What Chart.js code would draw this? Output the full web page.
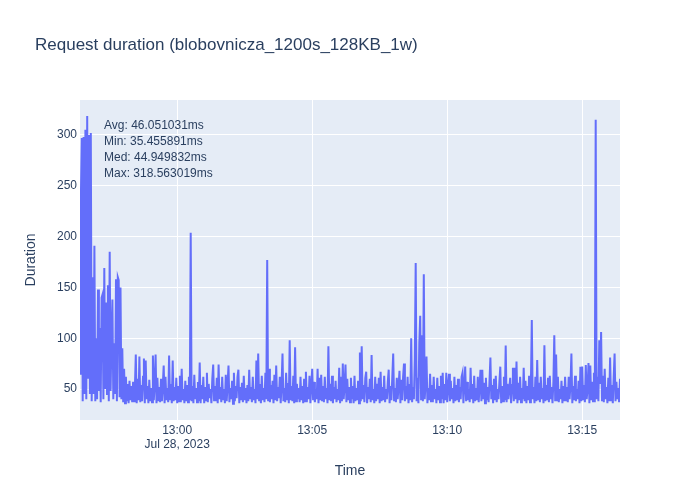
<!DOCTYPE html>
<html>
<head>
<meta charset="utf-8">
<script src="https://cdn.jsdelivr.net/npm/chart.js@4.4.0/dist/chart.umd.min.js"></script>
<style>
  html, body { margin: 0; padding: 0; background: #fff; }
  #myChart { display: block; }
</style>
</head>
<body>
<canvas id="myChart" width="700" height="500"></canvas>
<script>
// request durations (ms), one sample every 2 s, grouped by minute from 12:56:24
const startTime = '12:56:24';
const sampleStep = 2;
const min00 = [65, 240, 297, 38, 298, 45, 305, 40, 318.563019, 60, 300, 45, 302, 38, 160, 45, 191, 38, 100, 40, 148, 48, 110, 37, 140, 143, 40, 169, 50, 135];
const min01 = [45, 152, 38, 185, 48, 100, 138, 40, 95, 45, 158, 38, 160, 157, 42, 150, 40, 90, 37, 70, 36, 62, 38, 55, 36, 58, 39, 53, 37, 57];
const min02 = [38, 52, 84, 36, 60, 39, 82, 37, 54, 38, 62, 80, 36, 78, 40, 53, 36, 59, 38, 51, 37, 83, 39, 55, 84, 36, 61, 38, 52, 37];
const min03 = [60, 38, 54, 73, 36, 62, 39, 51, 37, 83, 40, 55, 36, 78, 38, 52, 39, 61, 36, 53, 38, 63, 37, 70, 39, 50, 36, 58, 38, 54];
const min04 = [37, 62, 39, 203.8, 38, 53, 36, 64, 40, 51, 37, 57, 38, 76, 36, 54, 40, 62, 36, 52, 39, 66, 37, 55, 41, 50, 36, 60, 74, 38];
const min05 = [53, 38, 61, 36, 74, 40, 52, 37, 62, 39, 50, 36, 64, 38, 55, 73, 37, 51, 40, 58, 35.455891, 66, 38, 53, 41, 62, 69, 36, 52, 39];
const min06 = [56, 37, 63, 39, 51, 36, 54, 38, 69, 40, 52, 37, 62, 39, 50, 36, 78, 40, 85, 38, 55, 36, 63, 39, 51, 37, 66, 40, 177, 38];
const min07 = [70, 37, 54, 40, 58, 36, 64, 39, 73, 38, 52, 41, 62, 36, 55, 85, 38, 51, 37, 66, 40, 56, 36, 98, 39, 53, 38, 63, 36, 91];
const min08 = [38, 55, 40, 51, 37, 62, 39, 53, 36, 60, 38, 67, 37, 52, 40, 63, 36, 54, 70, 39, 57, 37, 50, 40, 70, 36, 61, 39, 64, 38];
const min09 = [53, 37, 62, 40, 51, 36, 92, 39, 55, 38, 63, 36, 52, 40, 58, 37, 50, 39, 71, 36, 62, 38, 75, 40, 54, 74, 37, 60, 39, 52];
const min10 = [37, 61, 40, 53, 36, 63, 38, 51, 39, 58, 36, 86, 38, 92, 40, 54, 37, 61, 67, 36, 52, 40, 60, 37, 83.5, 39, 50, 36, 62, 38];
const min11 = [55, 40, 61, 36, 67, 38, 52, 39, 63, 37, 50, 40, 57, 69, 36, 53, 39, 62, 85, 38, 51, 37, 61, 40, 54, 68, 36, 59, 39, 62];
const min12 = [75, 38, 53, 40, 62, 36, 55, 39, 100, 37, 52, 40, 80, 174, 38, 61, 36, 95, 122, 39, 103, 38, 163, 40, 56, 82, 36, 51, 39, 65];
const min13 = [38, 54, 37, 62, 40, 50, 36, 61, 39, 53, 37, 63, 40, 66, 36, 55, 39, 66, 37, 52, 65, 38, 58, 40, 51, 36, 62, 38, 54, 39];
const min14 = [60, 37, 52, 40, 62, 66, 36, 54, 72, 38, 57, 39, 50, 37, 71, 40, 55, 36, 63, 38, 51, 39, 62, 37, 53, 69, 38, 69, 40, 56];
const min15 = [36, 61, 39, 52, 37, 58, 81, 40, 54, 36, 60, 39, 63, 37, 50, 40, 57, 72, 36, 53, 38, 62, 39, 92.7, 37, 55, 40, 51, 61, 36];
const min16 = [54, 71, 38, 71, 40, 77, 36, 56, 39, 62, 37, 51, 40, 71, 38, 58, 36, 53, 39, 63, 37, 55, 118, 40, 52, 36, 62, 38, 78.6, 39];
const min17 = [56, 37, 62, 40, 51, 36, 93, 38, 54, 39, 61, 37, 63, 40, 52, 36, 57, 103, 38, 84, 39, 62, 37, 50, 40, 58, 36, 53, 38, 62];
const min18 = [39, 52, 37, 62, 40, 55, 85, 36, 53, 39, 63, 38, 50, 40, 58, 36, 72, 38, 72, 39, 54, 37, 73.5, 40, 51, 75.6, 36, 73, 39, 57];
const min19 = [38, 66, 37, 315, 40, 62, 38, 98, 55, 106, 39, 63, 37, 70, 40, 52, 36, 61, 38, 81, 39, 54, 36, 62, 85, 38, 57, 40, 51, 37, 60];

const tickSecs = [216, 516, 816, 1116];
const tickLabels = ['13:00', '13:05', '13:10', '13:15'];
const tickDate = 'Jul 28, 2023';
const statLines = ['Avg: 46.051031ms', 'Min: 35.455891ms', 'Med: 44.949832ms', 'Max: 318.563019ms'];

const durations = [].concat(min00, min01, min02, min03, min04, min05, min06, min07, min08, min09,
    min10, min11, min12, min13, min14, min15, min16, min17, min18, min19);
const points = durations.map(function (v, i) { return { x: i * sampleStep, y: v }; });

const textColor = '#2a3f5f';
const fontFamily = '"Liberation Sans", Arial, sans-serif';

const plotDecor = {
    id: 'plotDecor',
    beforeDraw: function (chart) {
        const a = chart.chartArea;
        const ctx = chart.ctx;
        ctx.save();
        ctx.fillStyle = '#e5ecf6';
        ctx.fillRect(a.left, a.top, a.right - a.left, a.bottom - a.top);
        ctx.restore();
    },
    afterDraw: function (chart) {
        const ctx = chart.ctx;
        ctx.save();
        ctx.fillStyle = textColor;
        ctx.textBaseline = 'middle';
        ctx.font = '17px ' + fontFamily;
        ctx.textAlign = 'left';
        ctx.fillText('Request duration (blobovnicza_1200s_128KB_1w)', 35, 45);

        ctx.font = '12px ' + fontFamily;
        statLines.forEach(function (line, i) {
            ctx.fillText(line, 104, 125.5 + i * 16);
        });

        ctx.font = '14px ' + fontFamily;
        ctx.textAlign = 'center';
        ctx.fillText('Time', 350, 471);
        ctx.translate(31, 260);
        ctx.rotate(-Math.PI / 2);
        ctx.fillText('Duration', 0, 0);
        ctx.restore();
    }
};

const config = {
    type: 'line',
    data: {
        datasets: [{
            data: points,
            borderColor: '#636efa',
            borderWidth: 2,
            pointRadius: 0,
            tension: 0,
            fill: false
        }]
    },
    options: {
        responsive: false,
        animation: false,
        parsing: false,
        layout: { padding: { left: 0, right: 80, top: 100, bottom: 0 } },
        plugins: {
            legend: { display: false },
            title: { display: false },
            tooltip: { enabled: false }
        },
        scales: {
            x: {
                type: 'linear',
                min: 0,
                max: 1200,
                afterBuildTicks: function (scale) {
                    scale.ticks = tickSecs.map(function (v) { return { value: v }; });
                },
                afterFit: function (scale) { scale.height = 80; },
                ticks: {
                    padding: 3,
                    color: textColor,
                    font: { family: fontFamily, size: 12 },
                    maxRotation: 0,
                    autoSkip: false,
                    callback: function (value) {
                        const i = tickSecs.indexOf(value);
                        if (i === 0) return [tickLabels[i], tickDate];
                        return tickLabels[i];
                    }
                },
                grid: { color: '#ffffff', lineWidth: 1, drawTicks: false },
                border: { display: false }
            },
            y: {
                min: 19.5,
                max: 334.4,
                afterBuildTicks: function (scale) {
                    scale.ticks = [50, 100, 150, 200, 250, 300].map(function (v) { return { value: v }; });
                },
                afterFit: function (scale) { scale.width = 80; },
                ticks: {
                    padding: 3,
                    color: textColor,
                    font: { family: fontFamily, size: 12 }
                },
                grid: { color: '#ffffff', lineWidth: 1, drawTicks: false },
                border: { display: false }
            }
        }
    },
    plugins: [plotDecor]
};

const myChart = new Chart(document.getElementById('myChart'), config);
</script>
</body>
</html>
